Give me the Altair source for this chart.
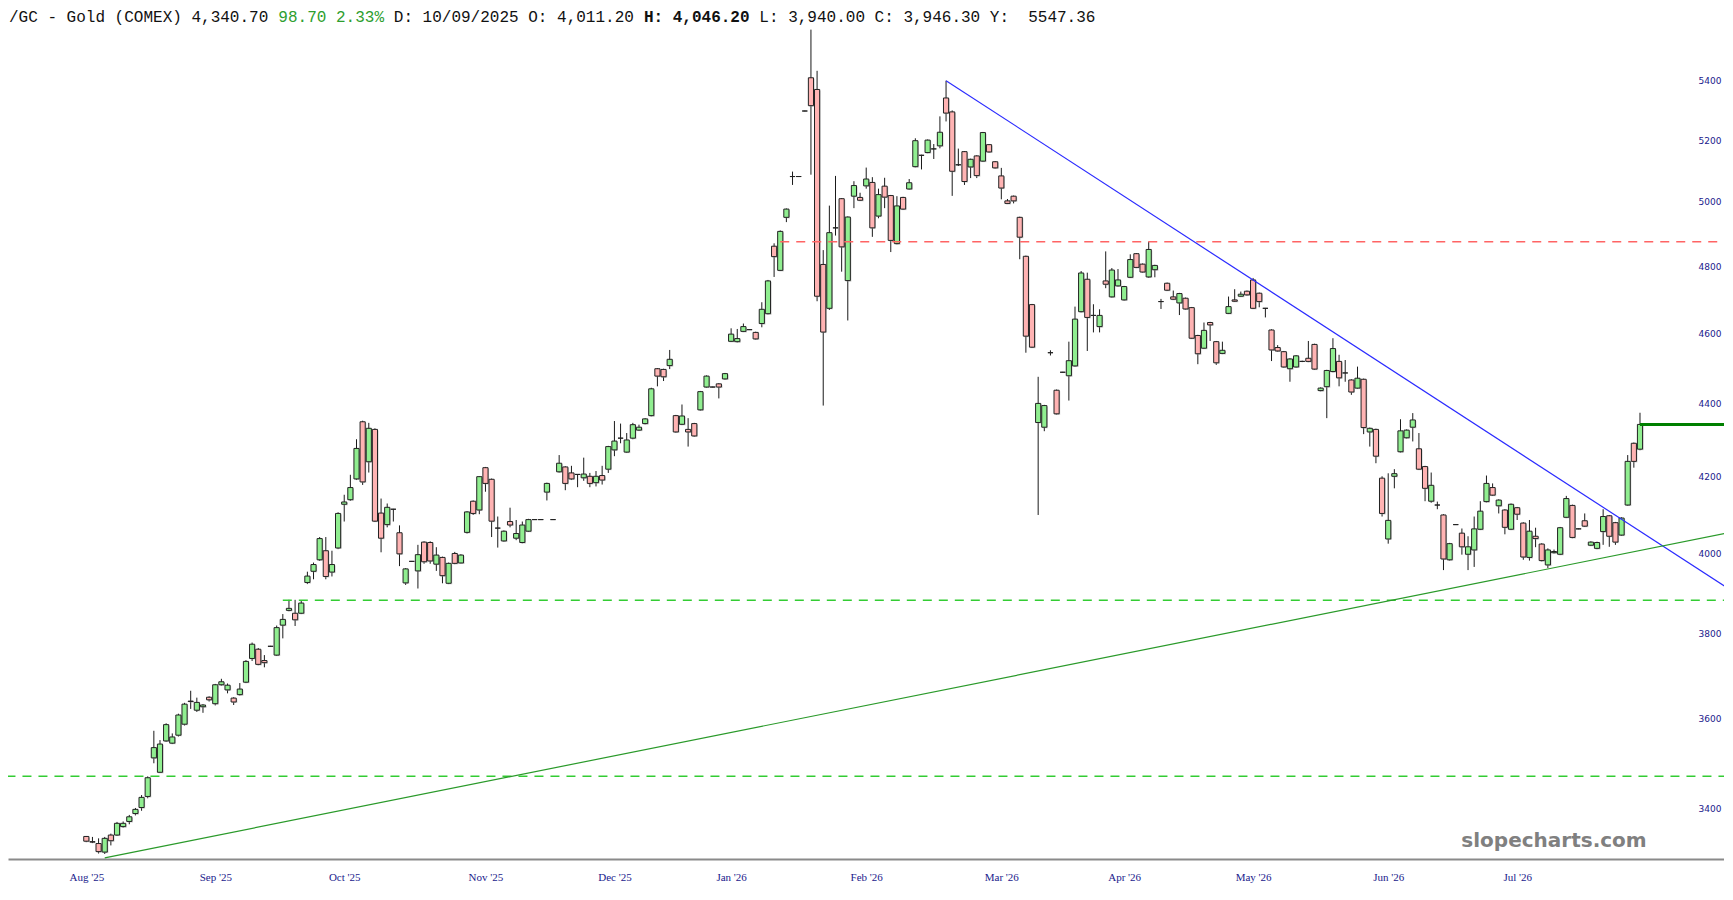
import json
import altair as alt
import pandas as pd

# ---------------- data (daily candles) ----------------
opens = [3341,3330,3326,3308,3344,3344,3362,3373,3390,3403,
3427,3512,3480,3550,3545,3563,3588,3641,3620,3628,
3650,3635,3679,3667,3648,3656,3685,3741,3763,3736,
3770,3749,3821,3857,3850,3850,3926,3954,3983,4006,
3952,4013,4126,4138,4193,4348,4239,4327,4103,4073,
4113,4052,3925,3979,3955,4028,4027,3972,3989,3924,
3999,3975,4053,4134,4111,4223,4192,4064,4031,4081,
4038,4027,4056,4086,4086,4158,4086,4212,4225,4209,
4205,4196,4200,4183,4202,4219,4271,4303,4265,4303,
4325,4343,4365,4497,4495,4506,4365,4341,4327,4343,
4381,4445,4445,4454,4468,4576,4575,4605,4610,4602,
4628,4657,4861,4787,4951,5081,5081,5297,5410,5370,
4805,4673,4918,5010,4756,5018,5014,5051,5062,4955,
5050,5020,4869,5014,5041,5113,5150,5159,5171,5181,
5341,5294,5119,5162,5112,5148,5131,5185,5129,5083,
5003,5018,4951,4830,4684,4346,4333,4543,4436,4487,
4477,4505,4663,4760,4652,4619,4755,4707,4740,4698,
4766,4838,4806,4767,4789,4693,4748,4707,4689,4703,
4675,4593,4556,4631,4575,4541,4658,4698,4709,4724,
4758,4718,4673,4609,4558,4546,4497,4502,4518,4527,
4567,4435,4446,4489,4518,4485,4465,4442,4467,4320,
4327,4195,4036,4200,4266,4304,4333,4274,4226,4134,
4124,4098,3983,4073,4051,3997,4008,4061,4133,4170,
4122,4111,4061,4117,4077,3989,4043,4023,3970,4001,
3997,4092,4123,4062,4083,4020,4012,4055,4096,4078,
4046,4124,4289,4273]

highs = [3342,3340,3337,3340,3347,3372,3373,3387,3402,3430,
3471,3573,3552,3590,3567,3612,3637,3665,3649,3634,
3652,3681,3693,3682,3650,3683,3737,3779,3766,3749,
3771,3820,3848,3883,3883,3881,3953,3976,4041,4041,
4006,4105,4151,4204,4300,4351,4345,4330,4141,4128,
4114,4071,3962,3980,4021,4030,4030,4015,3991,3976,
4003,3997,4108,4136,4200,4225,4194,4094,4058,4117,
4085,4081,4088,4087,4087,4183,4087,4257,4227,4228,
4206,4250,4209,4214,4228,4282,4350,4343,4317,4345,
4340,4358,4443,4499,4497,4551,4367,4396,4358,4345,
4434,4478,4446,4456,4485,4614,4612,4628,4611,4604,
4691,4758,4870,4910,4979,5097,5082,5298,5578,5434,
4849,4988,5083,5012,4954,5066,5029,5110,5079,5042,
5077,5022,5018,5016,5073,5206,5152,5202,5187,5279,
5400,5299,5172,5164,5139,5150,5227,5187,5131,5109,
5009,5020,4953,4832,4686,4474,4395,4550,4438,4488,
4575,4678,4785,4780,4685,4670,4845,4794,4791,4740,
4836,4840,4808,4875,4804,4701,4750,4726,4719,4705,
4677,4595,4631,4633,4577,4575,4708,4730,4723,4726,
4764,4720,4674,4611,4565,4548,4527,4536,4520,4577,
4569,4444,4494,4585,4537,4522,4467,4503,4469,4332,
4329,4200,4208,4219,4355,4327,4372,4317,4228,4210,
4133,4100,4026,4074,4063,4043,4094,4134,4202,4181,
4139,4113,4128,4119,4079,4085,4065,4025,4012,4009,
4067,4148,4125,4063,4102,4030,4029,4113,4098,4080,
4092,4257,4291,4373]

lows = [3329,3327,3305,3304,3322,3342,3360,3367,3386,3396,
3423,3500,3480,3548,3543,3560,3585,3623,3616,3614,
3640,3631,3677,3659,3632,3654,3683,3735,3725,3720,
3769,3747,3789,3855,3819,3848,3922,3934,3980,3934,
3941,4010,4081,4135,4190,4177,4210,4080,4002,4066,
4081,3967,3920,3978,3911,3973,3973,3955,3924,3922,
3972,3974,4050,4098,4100,4159,4041,4014,4029,4066,
4033,4025,4054,4085,4085,4136,4085,4210,4163,4190,
4171,4188,4171,4173,4178,4209,4254,4289,4263,4300,
4323,4341,4363,4447,4462,4496,4318,4339,4280,4307,
4379,4443,4444,4413,4466,4574,4573,4603,4609,4581,
4617,4655,4767,4785,4936,5054,5080,5296,5087,4694,
4393,4668,4894,4783,4637,4980,5003,5042,4890,4948,
4980,4843,4867,4975,5039,5111,5104,5157,5138,5173,
5262,5019,5115,5054,5076,5076,5129,5159,5107,5008,
4993,4995,4821,4543,4557,4098,4322,4535,4368,4486,
4407,4503,4661,4548,4602,4602,4733,4705,4738,4696,
4764,4794,4780,4764,4766,4671,4725,4698,4653,4669,
4583,4510,4554,4577,4508,4539,4656,4692,4707,4711,
4671,4676,4646,4519,4546,4500,4460,4500,4516,4516,
4494,4433,4358,4487,4447,4460,4423,4440,4314,4280,
4235,4094,4024,4168,4264,4302,4294,4217,4134,4130,
4113,3957,3981,4072,3996,3957,3965,4059,4131,4148,
4102,4048,4059,4085,3983,3981,4015,3979,3962,3999,
3995,4090,4038,4061,4067,4018,4010,4021,4016,4021,
4044,4122,4223,4270]

closes = [3331,3329,3309,3337,3332,3369,3369,3383,3399,3425,
3468,3535,3543,3587,3559,3609,3634,3640,3638,3632,
3644,3679,3686,3678,3639,3669,3734,3775,3727,3731,
3770,3815,3835,3862,3834,3875,3942,3971,4037,3941,
3971,4102,4132,4170,4275,4185,4330,4082,4038,4118,
4113,3998,3960,3979,3996,3978,3980,3995,3943,3974,
3974,3995,4106,4102,4199,4181,4082,4064,4056,4072,
4050,4072,4086,4086,4086,4181,4086,4235,4181,4193,
4205,4206,4181,4200,4190,4280,4295,4303,4298,4340,
4333,4356,4440,4476,4474,4524,4320,4364,4320,4309,
4432,4476,4445,4445,4483,4597,4584,4619,4610,4583,
4670,4755,4829,4907,4977,5081,5081,5297,5315,4709,
4603,4903,4918,4859,4952,5052,5005,5073,4918,5023,
5015,4879,4987,4977,5061,5198,5150,5200,5171,5226,
5290,5098,5119,5065,5137,5084,5225,5161,5109,5044,
4995,5003,4889,4591,4559,4399,4393,4543,4370,4487,
4520,4641,4779,4646,4652,4652,4745,4788,4758,4738,
4820,4796,4782,4851,4802,4693,4727,4700,4717,4671,
4585,4540,4608,4624,4514,4550,4678,4694,4715,4713,
4673,4693,4673,4551,4548,4502,4525,4534,4518,4518,
4496,4442,4492,4555,4471,4485,4431,4470,4332,4330,
4254,4102,4084,4207,4323,4325,4353,4219,4168,4176,
4124,3985,4024,4073,4016,4016,4062,4108,4181,4150,
4137,4066,4126,4100,3990,4056,4037,3981,4008,4004,
4065,4141,4040,4062,4069,4028,4027,4094,4043,4028,
4090,4240,4240,4340.7]

month_labels = ["Aug '25", "Sep '25", "Oct '25", "Nov '25", "Dec '25", "Jan '26",
                "Feb '26", "Mar '26", "Apr '26", "May '26", "Jun '26", "Jul '26"]
month_idx = [0, 21, 42, 65, 86, 105, 127, 149, 169, 190, 212, 233]
y_ticks = [3400, 3600, 3800, 4000, 4200, 4400, 4600, 4800, 5000, 5200, 5400]

# horizontal levels: value, first candle index, colour
level_vals = [4875, 3882, 3471]
level_start = [113, 32, -13]
level_colors = ["#ff6464", "#33cc33", "#33cc33"]

# trend lines (two end points each)
trend_id = ["down", "down", "up", "up"]
trend_x = [140, 270, 3, 270]
trend_y = [5400, 3885, 3296, 4060]
trend_colors = ["#2b2bff", "#2b2bff", "#2a9a2a", "#2a9a2a"]

last_close = 4340.7
last_idx = 253

header_parts = ["/GC - Gold (COMEX) 4,340.70", "98.70 2.33%", "D: 10/09/2025 O: 4,011.20",
                "H: 4,046.20", "L: 3,940.00 C: 3,946.30 Y:\u00a0\u00a05547.36"]
header_chars = [0, 28, 40, 66, 78]
header_colors = ["#111111", "#2e9e2e", "#111111", "#111111", "#111111"]
header_weights = ["normal", "normal", "normal", "bold", "normal"]

# ---------------- chart ----------------
W, H = 1716, 841
xs = alt.Scale(domain=[-12.75, 266.68], nice=False, zero=False)
ys = alt.Scale(type="log", domain=[3293.5, 5619.4], nice=False)

label_expr = json.dumps(month_labels) + "[indexof(" + json.dumps(month_idx) + ", datum.value)]"
x_axis = alt.Axis(values=month_idx, labelExpr=label_expr, title=None, grid=False, ticks=False,
                  tickSize=0, domain=True, domainColor="#8a8a8a", domainWidth=2,
                  labelColor="#1a1a8c", labelFont="Liberation Serif", labelFontSize=11,
                  labelPadding=12, labelFlush=False, labelOverlap=False, labelBaseline="top")
y_axis = alt.Axis(orient="right", values=y_ticks, format="d", title=None, grid=False,
                  ticks=False, tickSize=0, domain=False, labelAlign="right", labelPadding=-3,
                  labelColor="#1a1a8c", labelFont="DejaVu Sans", labelFontSize=9,
                  labelFlush=False, labelOverlap=False)

df = pd.DataFrame({"i": list(range(len(opens))), "o": opens, "h": highs, "l": lows, "c": closes})

base = alt.Chart(df).transform_calculate(x1="datum.i - 0.42", x2="datum.i + 0.42")

wicks = alt.Chart(df).mark_rule(color="#1a1a1a", strokeWidth=1).encode(
    x=alt.X("i:Q", scale=xs, axis=x_axis),
    y=alt.Y("l:Q", scale=ys, axis=y_axis),
    y2="h:Q",
)

shadow = base.mark_rect(color="#9a9a9a", opacity=0.55, xOffset=1, x2Offset=1, yOffset=1, y2Offset=1).encode(
    x=alt.X("x1:Q", scale=xs, axis=x_axis),
    x2="x2:Q",
    y=alt.Y("o:Q", scale=ys, axis=y_axis),
    y2="c:Q",
)

bodies = base.mark_rect(stroke="#222222", strokeWidth=1).encode(
    x=alt.X("x1:Q", scale=xs, axis=x_axis),
    x2="x2:Q",
    y=alt.Y("o:Q", scale=ys, axis=y_axis),
    y2="c:Q",
    fill=alt.condition("datum.c >= datum.o", alt.value("#90ee90"), alt.value("#ffb3b3")),
)

lev_df = pd.DataFrame({"v": level_vals, "s": level_start, "e": [270] * len(level_vals), "col": level_colors})
levels = alt.Chart(lev_df).mark_rule(strokeDash=[9, 7], strokeWidth=1.5, clip=True).encode(
    x=alt.X("s:Q", scale=xs, axis=x_axis),
    x2="e:Q",
    y=alt.Y("v:Q", scale=ys, axis=y_axis),
    color=alt.Color("col:N", scale=None),
)

tr_df = pd.DataFrame({"id": trend_id, "x": trend_x, "y": trend_y, "col": trend_colors})
trends = alt.Chart(tr_df).mark_line(strokeWidth=1.2, clip=True).encode(
    x=alt.X("x:Q", scale=xs, axis=x_axis),
    y=alt.Y("y:Q", scale=ys, axis=y_axis),
    detail="id:N",
    color=alt.Color("col:N", scale=None),
)

last_df = pd.DataFrame({"v": [last_close], "s": [last_idx], "e": [270]})
last_line = alt.Chart(last_df).mark_rule(color="#008000", strokeWidth=3, clip=True).encode(
    x=alt.X("s:Q", scale=xs, axis=x_axis),
    x2="e:Q",
    y=alt.Y("v:Q", scale=ys, axis=y_axis),
)

texts = []
for part, ch, col, wt in zip(header_parts, header_chars, header_colors, header_weights):
    texts.append(
        alt.Chart(pd.DataFrame({"t": [part]})).mark_text(
            font="Liberation Mono", fontSize=16, fontWeight=wt, color=col,
            align="left", baseline="middle"
        ).encode(x=alt.value(1 + 9.62 * ch), y=alt.value(-1), text="t:N")
    )

watermark = alt.Chart(pd.DataFrame({"t": ["slopecharts.com"]})).mark_text(
    font="DejaVu Sans", fontSize=20, fontWeight="bold", color="#808080",
    align="center", baseline="middle"
).encode(x=alt.value(1546), y=alt.value(823), text="t:N")

chart = alt.layer(wicks, shadow, bodies, levels, trends, last_line, watermark, *texts).properties(
    width=W, height=H,
    autosize=alt.AutoSizeParams(type="none"),
    padding={"top": 10, "bottom": 27, "left": 0, "right": 0},
).configure(background="white", view=alt.ViewConfig(stroke=None))

chart.save("out.html", embed_options={"renderer": "svg", "actions": False})
